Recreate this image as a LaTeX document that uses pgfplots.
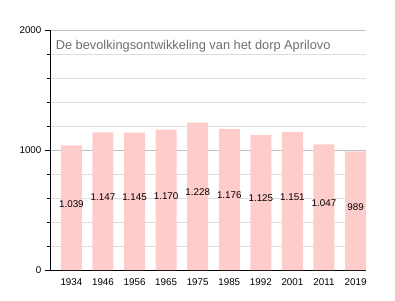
\documentclass[border=0pt]{standalone}
\usepackage{pgfplots}
\pgfplotsset{compat=1.18}
\usepackage{pgfplotstable}
\usepackage{fontspec}
\setmainfont{Liberation Sans}
\definecolor{barpink}{RGB}{255,204,204}
\definecolor{gridgray}{RGB}{221,221,221}
\definecolor{majgray}{RGB}{192,192,192}
\definecolor{titlegray}{RGB}{110,110,110}
\pgfplotstableread{
x year value lab labpos
0 1934 1039 1.039 551
1 1946 1147 1.147 608
2 1956 1145 1.145 607
3 1965 1170 1.170 620
4 1975 1228 1.228 651
5 1985 1176 1.176 623
6 1992 1125 1.125 596
7 2001 1151 1.151 610
8 2011 1047 1.047 555
9 2019 989 989 524
}\datatable
\begin{document}
\begin{tikzpicture}
\begin{axis}[
  scale only axis,
  width=316pt, height=240pt,
  xmin=-0.68, xmax=9.33,
  ymin=0, ymax=2000,
  axis lines*=left,
  axis line style={black, line width=0.8pt, -},
  xtick=data,
  xticklabels={1934,1946,1956,1965,1975,1985,1992,2001,2011,2019},
  x tick style={draw=none},
  ytick={0,1000,2000},
  minor ytick={200,400,600,800,1200,1400,1600,1800},
  ymajorgrids, yminorgrids,
  major grid style={majgray, line width=0.5pt},
  minor grid style={gridgray, line width=0.5pt},
  y tick style={black, line width=0.6pt},
  major tick length=5pt,
  minor tick length=2.5pt,
  tick align=outside,
  tick label style={font=\fontsize{9.8}{11}\selectfont},
  /pgf/number format/assume math mode=true,
  yticklabel style={/pgf/number format/1000 sep={}},
  clip=false,
]
\addplot[ybar, bar width=21pt, fill=barpink, draw=none, bar shift=0pt] table[x=x, y=value] {\datatable};
\addplot[draw=none, mark=none, nodes near coords, point meta=explicit symbolic,
  nodes near coords style={anchor=center, font=\fontsize{9.8}{11}\selectfont, text=black}]
  table[x=x, y=labpos, meta=lab] {\datatable};
\node[anchor=west, inner sep=0pt, text=titlegray, font=\fontsize{12.8}{15}\selectfont] at (rel axis cs:0.018,0.933) {De bevolkingsontwikkeling van het dorp Aprilovo};
\path (rel axis cs:-0.158,-0.125) (rel axis cs:1.0918,1.125);
\end{axis}
\end{tikzpicture}
\end{document}
